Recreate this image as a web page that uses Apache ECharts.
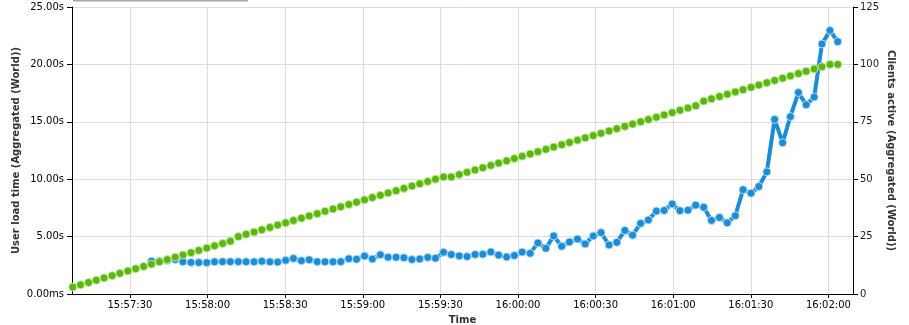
<!DOCTYPE html>
<html>
<head>
<meta charset="utf-8">
<script src="https://cdn.jsdelivr.net/npm/echarts@6/dist/echarts.min.js"></script>
<style>
html,body{margin:0;padding:0;background:#fff;}
#chart{width:909px;height:325px;}
</style>
</head>
<body>
<div id="chart"></div>
<script>
// Sample times, in seconds after 15:57:00
var times = [7.9, 10.9, 14.0, 17.0, 20.0, 23.1, 26.1, 29.2, 32.2, 35.3,
  38.3, 41.4, 44.4, 47.5, 50.5, 53.6, 56.6, 59.7, 62.7, 65.8,
  68.8, 71.9, 74.9, 78.0, 81.0, 84.1, 87.1, 90.2, 93.2, 96.3,
  99.3, 102.4, 105.4, 108.5, 111.5, 114.6, 117.6, 120.7, 123.7, 126.8,
  129.8, 132.9, 135.9, 139.0, 142.0, 145.1, 148.1, 151.2, 154.2, 157.3,
  160.3, 163.4, 166.4, 169.5, 172.5, 175.6, 178.6, 181.6, 184.7, 187.7,
  190.8, 193.8, 196.9, 199.9, 203.0, 206.0, 209.1, 212.1, 215.2, 218.2,
  221.3, 224.3, 227.4, 230.4, 233.5, 236.5, 239.6, 242.6, 245.7, 248.7,
  251.8, 254.8, 257.9, 260.9, 264.0, 267.0, 270.1, 273.1, 276.2, 279.2,
  282.3, 285.3, 288.4, 291.4, 294.5, 297.5, 300.6, 303.6];

// User load time (seconds), left axis
var loadTime = [null, null, null, null, null, null, null, null, null, null,
  2.85, 2.88, 2.92, 3.0, 2.8, 2.75, 2.74, 2.73, 2.8, 2.82,
  2.82, 2.82, 2.81, 2.8, 2.85, 2.8, 2.78, 2.93, 3.1, 2.9,
  2.98, 2.81, 2.8, 2.8, 2.82, 3.07, 3.03, 3.31, 3.05, 3.42,
  3.2, 3.2, 3.16, 3.0, 3.05, 3.19, 3.12, 3.63, 3.44, 3.32,
  3.26, 3.44, 3.46, 3.66, 3.39, 3.23, 3.35, 3.65, 3.54, 4.45,
  3.98, 5.06, 4.15, 4.53, 4.79, 4.36, 5.05, 5.35, 4.27, 4.5,
  5.54, 5.12, 6.15, 6.45, 7.22, 7.28, 7.84, 7.26, 7.3, 7.74,
  7.55, 6.41, 6.67, 6.2, 6.82, 9.09, 8.78, 9.36, 10.64, 15.21,
  13.18, 15.45, 17.55, 16.49, 17.16, 21.78, 22.96, 21.98];

// Clients active, right axis
var clients = [3, 4, 5, 6, 7, 8, 9, 10, 11, 12,
  13, 14, 15, 16, 17, 18, 19, 20, 21, 22,
  23, 25, 26, 27, 28, 29, 30, 31, 32, 33,
  34, 35, 36, 37, 38, 39, 40, 41, 42, 43,
  44, 45, 46, 47, 48, 49, 50, 51, 51, 52,
  53, 54, 55, 56, 57, 58, 59, 60, 61, 62,
  63, 64, 65, 66, 67, 68, 69, 70, 71, 72,
  73, 74, 75, 76, 77, 78, 79, 80, 81, 82,
  84, 85, 86, 87, 88, 89, 90, 91, 92, 93,
  94, 95, 96, 97, 98, 99, 100, 100];

var xTickValues = [30, 60, 90, 120, 150, 180, 210, 240, 270, 300];
var xTickLabels = ['15:57:30', '15:58:00', '15:58:30', '15:59:00', '15:59:30',
  '16:00:00', '16:00:30', '16:01:00', '16:01:30', '16:02:00'];
var leftTickLabels = ['0.00ms', '5.00s', '10.00s', '15.00s', '20.00s', '25.00s'];
var rightTickLabels = ['0', '25', '50', '75', '100', '125'];

var FONT = 'DejaVu Sans';

var blueData = [];
var greenData = [];
for (var i = 0; i < times.length; i++) {
  if (loadTime[i] !== null) blueData.push([times[i], loadTime[i]]);
  greenData.push([times[i], clients[i]]);
}

var nameStyle = {fontFamily: FONT, fontSize: 10, color: '#333', fontWeight: 'bold'};

var chart = echarts.init(document.getElementById('chart'), null, {renderer: 'canvas'});
chart.setOption({
  animation: false,
  backgroundColor: '#ffffff',
  grid: {left: 72, right: 56, top: 7, bottom: 31, containLabel: false, outerBoundsMode: 'none'},
  graphic: [{
    type: 'rect', left: 73, top: 0, shape: {width: 175, height: 1.5},
    style: {fill: '#a8a8a8'}, silent: true
  }],
  xAxis: {
    type: 'value', min: 7.6, max: 309.5,
    name: 'Time', nameLocation: 'middle', nameGap: 21, nameMoveOverlap: false,
    nameTextStyle: nameStyle,
    axisLine: {show: true, lineStyle: {color: '#000', width: 1}},
    axisTick: {show: true, customValues: xTickValues, length: 4, lineStyle: {color: '#000'}},
    axisLabel: {
      customValues: xTickValues, margin: 6,
      fontFamily: FONT, fontSize: 10, color: '#000',
      formatter: function (v) { var k = xTickValues.indexOf(v); return k >= 0 ? xTickLabels[k] : ''; }
    },
    splitLine: {show: false}
  },
  yAxis: [{
    type: 'value', min: 0, max: 25, interval: 5, position: 'left',
    name: 'User load time (Aggregated (World))', nameLocation: 'middle', nameGap: 51, nameMoveOverlap: false,
    nameTextStyle: nameStyle,
    axisLine: {show: true, lineStyle: {color: '#000', width: 1}},
    axisTick: {show: true, length: 5, lineStyle: {color: '#000'}},
    axisLabel: {
      margin: 8, fontFamily: FONT, fontSize: 10, color: '#000',
      formatter: function (v) { return leftTickLabels[Math.round(v / 5)]; }
    },
    splitLine: {show: true, lineStyle: {color: '#dddddd', width: 1}}
  }, {
    type: 'value', min: 0, max: 125, interval: 25, position: 'right',
    name: 'Clients active (Aggregated (World))', nameLocation: 'middle', nameGap: 33, nameRotate: -90, nameMoveOverlap: false,
    nameTextStyle: nameStyle,
    axisLine: {show: true, lineStyle: {color: '#000', width: 1}},
    axisTick: {show: true, length: 5, lineStyle: {color: '#000'}},
    axisLabel: {
      margin: 7, fontFamily: FONT, fontSize: 10, color: '#1a1a2e',
      formatter: function (v) { return rightTickLabels[Math.round(v / 25)]; }
    },
    splitLine: {show: false}
  }],
  series: [{
    type: 'line', name: 'grid', data: [], silent: true, z: 0,
    markLine: {
      silent: true, symbol: ['none', 'none'], z: 0,
      label: {show: false},
      lineStyle: {color: '#dddddd', width: 1, type: 'solid'},
      emphasis: {disabled: true},
      data: xTickValues.map(function (v) { return {xAxis: v}; })
    }
  }, {
    type: 'line', name: 'User load time', yAxisIndex: 0, data: blueData,
    symbol: 'circle', symbolSize: 8, showSymbol: true, z: 3,
    lineStyle: {color: '#1b8dd5', width: 4},
    itemStyle: {color: '#1b8dd5', borderColor: 'rgba(190,225,248,0.9)', borderWidth: 1}
  }, {
    type: 'line', name: 'Clients active', yAxisIndex: 1, data: greenData,
    symbol: 'circle', symbolSize: 8, showSymbol: true, z: 4,
    lineStyle: {width: 0, opacity: 0},
    itemStyle: {color: '#5bb70b', borderColor: 'rgba(200,235,170,0.9)', borderWidth: 1}
  }]
});
</script>
</body>
</html>
